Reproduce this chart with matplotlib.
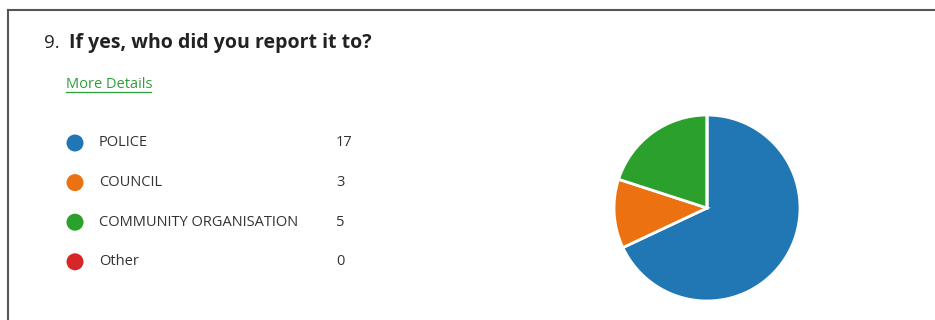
import matplotlib.pyplot as plt
from matplotlib.patches import Circle

# survey answers
labels = ["POLICE", "COUNCIL", "COMMUNITY ORGANISATION", "Other"]
counts = [17, 3, 5, 0]
colors = ["#2077B4", "#EC7211", "#2CA02C", "#D62728"]

question_no = "9."
question = "If yes, who did you report it to?"

W, H = 935, 320
plt.rcParams["font.family"] = ["Open Sans", "DejaVu Sans"]

fig = plt.figure(figsize=(W / 100, H / 100), dpi=100)
fig.patch.set_facecolor("white")

# canvas in pixel coords (y down)
bg = fig.add_axes([0, 0, 1, 1])
bg.set_xlim(0, W)
bg.set_ylim(H, 0)
bg.axis("off")

# card border (top and left)
bg.plot([8, W], [10, 10], color="#555555", lw=1.5)
bg.plot([8, 8], [10, H], color="#555555", lw=1.5)

bg.text(44, 43, question_no, fontsize=13.5, color="#222222", va="center")
bg.text(69, 43, question, fontsize=14, fontweight="bold", color="#222222", va="center")

bg.text(66, 84, "More Details", fontsize=10.5, color="#2E9E3A", va="center")
bg.plot([66, 151], [92, 92], color="#2E9E3A", lw=0.9)

# legend rows
for i, (lab, n, c) in enumerate(zip(labels, counts, colors)):
    y = 143 + i * 39.6
    bg.add_patch(Circle((75, y), 8.5, color=c, lw=0))
    bg.text(99, y, lab, fontsize=10.5, color="#333333", va="center")
    bg.text(336, y, str(n), fontsize=10.5, color="#333333", va="center")

# pie chart
cx, cy, r = 707, 208, 93
ax = fig.add_axes([(cx - r) / W, 1 - (cy + r) / H, 2 * r / W, 2 * r / H])
ax.pie(counts, colors=colors, startangle=90, counterclock=False,
       wedgeprops={"edgecolor": "white", "linewidth": 2})
ax.set_aspect("equal")
ax.set_xlim(-1, 1)
ax.set_ylim(-1, 1)

fig.savefig("out.png", dpi=100, facecolor="white")
